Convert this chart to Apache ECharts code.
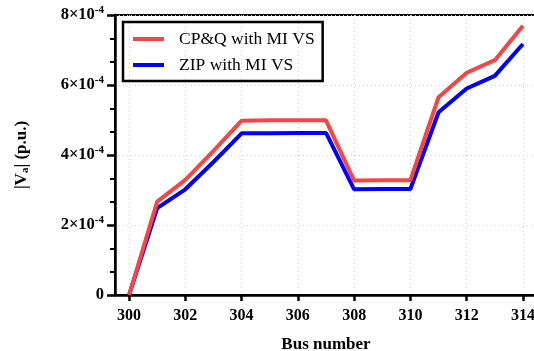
<!DOCTYPE html>
<html><head><meta charset="utf-8">
<script src="https://cdn.jsdelivr.net/npm/echarts@6/dist/echarts.min.js"></script>
<style>html,body{margin:0;padding:0;background:#fff}#c{width:534px;height:351px}</style>
</head><body><div id="c"></div>
<script>
var buses = [300,301,302,303,304,305,306,307,308,309,310,311,312,313,314];
var cpq = [0,2.67,3.29,4.12,4.98,4.99,4.99,4.99,3.27,3.28,3.28,5.65,6.35,6.71,7.69];
var zip = [0,2.48,3.02,3.80,4.62,4.62,4.63,4.63,3.02,3.03,3.03,5.22,5.90,6.26,7.17];
var seriesNames = ['CP&Q with MI VS','ZIP with MI VS'];
var xTicks = [300,302,304,306,308,310,312,314];
var toPairs = function(v){return buses.map(function(b,i){return [b, v[i]*1e-4];});};
var serif = '"Liberation Serif","Times New Roman",serif';
var chart = echarts.init(document.getElementById('c'));
chart.setOption({
  animation:false,
  grid:{left:115,right:-3,top:15,bottom:56,outerBoundsMode:'none',containLabel:false,show:true,borderColor:'#000',borderWidth:2,backgroundColor:'transparent'},
  legend:{
    left:123, top:22, width:200, orient:'vertical',
    padding:[8,8,7,10], itemGap:8,
    borderColor:'#000', borderWidth:2.5,
    itemWidth:31, itemHeight:4,
    icon:'rect',
    textStyle:{fontFamily:serif, fontSize:17.5, color:'#000', padding:[0,0,0,10]},
    data:seriesNames
  },
  xAxis:{
    type:'value', min:299.5, max:314.5, interval:2,
    name:'Bus number', nameLocation:'middle', nameGap:41,
    nameTextStyle:{fontFamily:serif, fontSize:17, fontWeight:'bold', color:'#000'},
    axisLine:{lineStyle:{color:'#000', width:2.5}},
    axisTick:{length:6, lineStyle:{color:'#000', width:2.5},
      customValues: xTicks},
    axisLabel:{fontFamily:serif, fontSize:16, fontWeight:'bold', color:'#000', margin:13,
      customValues: xTicks},
    splitLine:{show:true, lineStyle:{color:'#d0d0d0', type:[1,3], width:1}, customValues: xTicks}
  },
  yAxis:{
    type:'value', min:0, max:8e-4, interval:2e-4,
    name:'|{n|V}{s|a}| (p.u.)', nameLocation:'middle', nameGap:84,
    nameTextStyle:{fontFamily:serif, fontSize:17, fontWeight:'bold', color:'#000',
      rich:{n:{fontFamily:serif, fontSize:17, fontWeight:'bold'}, s:{fontFamily:serif, fontSize:11, fontWeight:'bold', verticalAlign:'bottom', padding:[8,0,0,0]}}},
    axisLine:{show:true, lineStyle:{color:'#000', width:2.5}},
    axisTick:{show:true, length:8, lineStyle:{color:'#000', width:2.5}},
    minorTick:{show:true, splitNumber:3, length:5, lineStyle:{color:'#000', width:2}},
    axisLabel:{margin:11, color:'#000',
      formatter:function(v){ if(v===0) return '{b|0}'; var m=Math.round(v*1e4); return '{b|'+m+'×10}{sup|-4}'; },
      rich:{b:{fontFamily:serif, fontSize:16.5, fontWeight:'bold', color:'#000'},
            sup:{fontFamily:serif, fontSize:11, fontWeight:'bold', color:'#000', verticalAlign:'top', padding:[0,0,9,0]}}},
    splitLine:{show:true, lineStyle:{color:'#d0d0d0', type:[1,3], width:1}}
  },
  series:[
    {name:seriesNames[0], type:'line', data:toPairs(cpq), showSymbol:false, symbol:'none',
     lineStyle:{color:'#f54545', width:4}, itemStyle:{color:'#f54545'}, z:3},
    {name:seriesNames[1], type:'line', data:toPairs(zip), showSymbol:false, symbol:'none',
     lineStyle:{color:'#0000ff', width:4}, itemStyle:{color:'#0000ff'}, z:2}
  ]
});
</script></body></html>
